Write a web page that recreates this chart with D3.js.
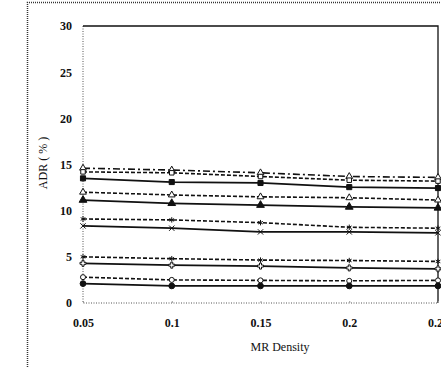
<!DOCTYPE html>
<html>
<head>
<meta charset="utf-8">
<script src="https://cdn.jsdelivr.net/npm/d3@7"></script>
<style>
  body { margin: 0; background: #fff; }
  svg { display: block; }
  text { font-family: "Liberation Serif", "DejaVu Serif", serif; fill: #111; }
</style>
</head>
<body>
<svg id="chart" width="441" height="367"></svg>
<script>
// MR density (x) values and tick labels
const densities = [0.05, 0.1, 0.15, 0.2, 0.25];
const xTickLabels = ['0.05', '0.1', '0.15', '0.2', '0.25'];
const yTicks = [0, 5, 10, 15, 20, 25, 30];

// ADR (%) series, top to bottom
const seriesA = [14.6, 14.4, 14.1, 13.7, 13.6];   // dash-dot
const seriesB = [14.2, 14.1, 13.7, 13.3, 13.2];   // dashed, open square
const seriesC = [13.5, 13.1, 13.0, 12.55, 12.45]; // solid, filled square
const seriesD = [12.0, 11.7, 11.5, 11.4, 11.15];  // dashed, open triangle
const seriesE = [11.15, 10.8, 10.6, 10.4, 10.3];  // solid, filled triangle
const seriesF = [9.1, 9.0, 8.7, 8.2, 8.1];        // dashed, star
const seriesG = [8.35, 8.1, 7.7, 7.7, 7.6];       // solid, cross
const seriesH = [5.0, 4.8, 4.65, 4.6, 4.5];       // dashed, asterisk
const seriesI = [4.3, 4.1, 4.0, 3.8, 3.7];        // solid, plus
const seriesJ = [2.8, 2.5, 2.45, 2.4, 2.45];      // dashed, open circle
const seriesK = [2.1, 1.85, 1.85, 1.85, 1.85];    // solid, filled circle

const series = [
  { values: seriesA, dash: '7,3,2,3', marker: d3.symbolTriangle, fill: false },
  { values: seriesB, dash: '4,2', marker: d3.symbolSquare, fill: false },
  { values: seriesC, dash: null, marker: d3.symbolSquare, fill: true },
  { values: seriesD, dash: '4,2', marker: d3.symbolTriangle, fill: false },
  { values: seriesE, dash: null, marker: d3.symbolTriangle, fill: true },
  { values: seriesF, dash: '4,2', marker: d3.symbolAsterisk, fill: false },
  { values: seriesG, dash: null, marker: d3.symbolTimes, fill: false },
  { values: seriesH, dash: '4,2', marker: d3.symbolAsterisk, fill: false },
  { values: seriesI, dash: null, marker: d3.symbolCross, fill: false },
  { values: seriesJ, dash: '4,2', marker: d3.symbolCircle, fill: false },
  { values: seriesK, dash: null, marker: d3.symbolCircle, fill: true }
];

const svg = d3.select('#chart');
const plot = { left: 83, right: 438, top: 26, bottom: 303 };

const x = d3.scaleLinear([0.05, 0.25], [plot.left, plot.right]);
const y = d3.scaleLinear([0, 30], [plot.bottom, plot.top]);

// outer dotted frame (chart area)
svg.append('path')
  .attr('d', `M27.5,367 L27.5,2.5 L441,2.5`)
  .attr('fill', 'none')
  .attr('stroke', '#333')
  .attr('stroke-width', 1.5)
  .attr('stroke-dasharray', '1,1');

// plot area border: left/bottom dotted, top/right solid
svg.append('path')
  .attr('d', `M${plot.left},${plot.top} L${plot.left},${plot.bottom} L${plot.right},${plot.bottom}`)
  .attr('fill', 'none')
  .attr('stroke', '#555')
  .attr('stroke-dasharray', '1,1.5');
svg.append('path')
  .attr('d', `M${plot.left},${plot.top} L${plot.right},${plot.top} L${plot.right},${plot.bottom}`)
  .attr('fill', 'none')
  .attr('stroke', '#111')
  .attr('stroke-width', 1.3);

// y axis
const yAxis = d3.axisLeft(y).tickValues(yTicks).tickSize(0).tickPadding(11);
const gy = svg.append('g').attr('transform', `translate(${plot.left},0)`).call(yAxis);
gy.select('.domain').remove();
gy.selectAll('text')
  .style('font-size', '12px').style('font-weight', 'bold')
  .style('font-family', '"Liberation Serif", serif');

// x axis
const xAxis = d3.axisBottom(x).tickValues(densities)
  .tickFormat((d, i) => xTickLabels[i]).tickSize(2).tickPadding(13);
const gx = svg.append('g').attr('transform', `translate(0,${plot.bottom})`).call(xAxis);
gx.select('.domain').remove();
gx.selectAll('line').attr('stroke', '#999').attr('transform', 'translate(0,-2)');
gx.selectAll('text')
  .style('font-size', '12px').style('font-weight', 'bold')
  .style('font-family', '"Liberation Serif", serif');

// axis titles
svg.append('text')
  .attr('x', 280).attr('y', 351)
  .attr('text-anchor', 'middle')
  .style('font-size', '12px')
  .text('MR Density');

svg.append('text')
  .attr('transform', 'translate(47,163) rotate(-90)')
  .attr('text-anchor', 'middle')
  .style('font-size', '12px')
  .text('ADR ( % )');

// lines
const line = d3.line()
  .x((d, i) => x(densities[i]))
  .y(d => y(d));

const groups = svg.append('g').selectAll('g.series')
  .data(series)
  .join('g')
  .attr('class', 'series');

groups.append('path')
  .attr('d', d => line(d.values))
  .attr('fill', 'none')
  .attr('stroke', '#111')
  .attr('stroke-width', d => d.dash ? 1.6 : 1.8)
  .attr('stroke-dasharray', d => d.dash);

groups.each(function(s) {
  d3.select(this).selectAll('path.marker')
    .data(s.values)
    .join('path')
    .attr('class', 'marker')
    .attr('transform', (d, i) => `translate(${x(densities[i])},${y(d)})`)
    .attr('d', d3.symbol(s.marker, s.fill ? 26 : 20))
    .attr('fill', s.fill ? '#111' : '#fff')
    .attr('stroke', '#111')
    .attr('stroke-width', 1);
});
</script>
</body>
</html>
